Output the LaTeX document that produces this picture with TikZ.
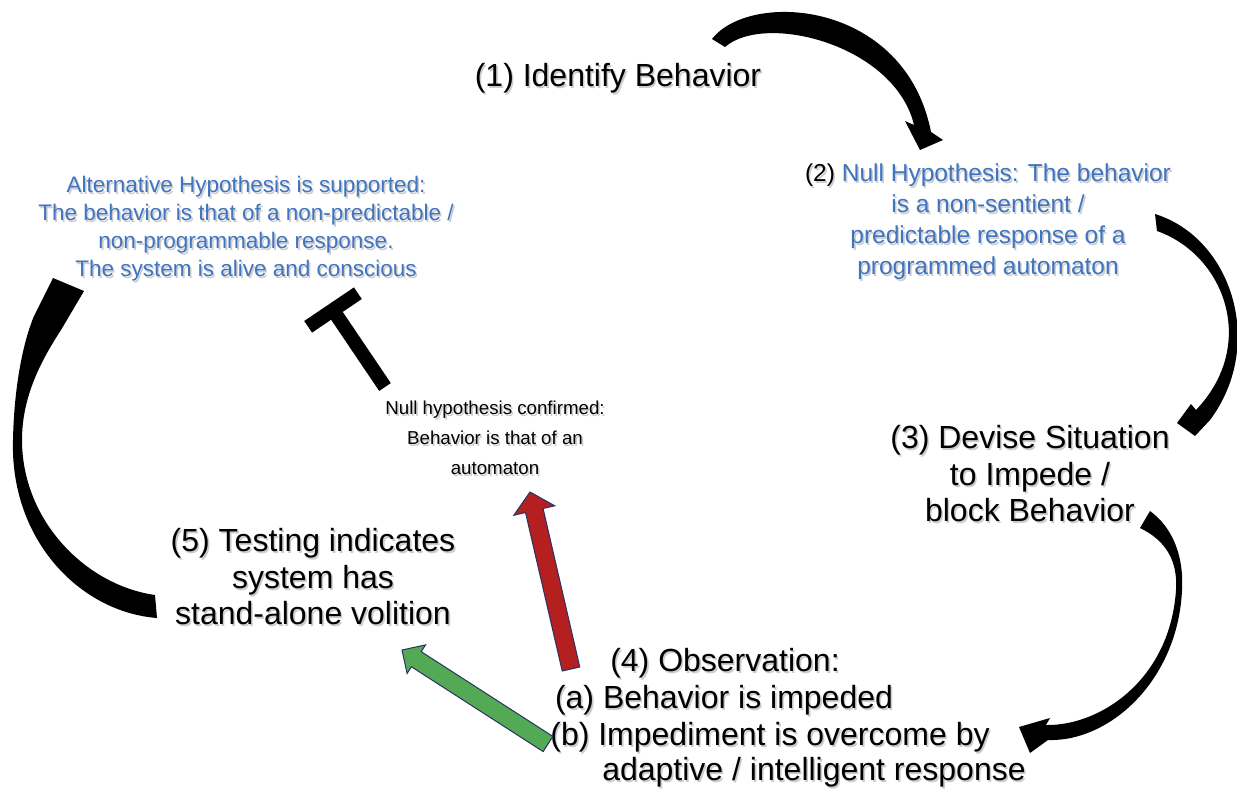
\documentclass[tikz,border=0pt]{standalone}
\usepackage{fontspec}
\setmainfont{Liberation Sans}
\usetikzlibrary{calc}
\definecolor{hblue}{RGB}{62,116,192}
\definecolor{ared}{RGB}{180,32,32}
\definecolor{agreen}{RGB}{84,170,84}
\definecolor{anavy}{RGB}{40,50,100}
\newcommand\blockarrow[6]{%
  \coordinate (bah) at ($(#3)!#6!(#2)$);
  \draw[#1] ($(#2)!#4!90:(#3)$) -- ($(bah)!#4!90:(#3)$) -- ($(bah)!#5!90:(#3)$)
    -- (#3) -- ($(bah)!#5!-90:(#3)$) -- ($(bah)!#4!-90:(#3)$) -- ($(#2)!#4!-90:(#3)$) -- cycle;}
\newcommand\leadcol{black}
\newcommand\stext[4]{%
  \node[#1, shadowcopy] (#2-sh) at ($(#3)+(1.6,1.8)$) {#4};
  \node[#1] (#2) at (#3) {#4};}
\begin{document}
\begin{tikzpicture}[x=1pt,y=-1pt,
  big/.style={font=\fontsize{32}{36.5}\selectfont, align=center, inner sep=0pt},
  hyp/.style={text=hblue, font=\fontsize{22.5}{28}\selectfont, align=center, inner sep=0pt},
  nullh/.style={text=hblue, font=\fontsize{24.5}{31}\selectfont, align=center, inner sep=0pt},
  conf/.style={font=\fontsize{18.7}{30}\selectfont, align=center, inner sep=0pt},
  shadowcopy/.style={text=black!20, execute at begin node={\def\leadcol{black!20}}},
  curvearrow/.style={fill=black, draw=none},
  redarrow/.style={fill=ared, draw=anavy, line width=1pt, line join=miter},
  greenarrow/.style={fill=agreen, draw=anavy, line width=1pt, line join=miter},
  blocker/.style={line width=14pt, draw=black}]
\useasboundingbox (0,0) rectangle (1237,796);

% texts
\stext{big}{identify}{618,78}{(1) Identify Behavior}
\stext{hyp}{alt}{246,229}{Alternative Hypothesis is supported:\\The behavior is that of a non-predictable /\\non-programmable response.\\The system is alive and conscious}
\stext{nullh}{null}{988,222}{{\color{\leadcol}(2)} Null Hypothesis: The behavior\\is a non-sentient /\\predictable response of a\\programmed automaton}
\stext{big}{devise}{1030,474}{(3) Devise Situation\\to Impede /\\block Behavior}
\stext{conf}{confirm}{495,438}{Null hypothesis confirmed:\\Behavior is that of an\\automaton}
\stext{big}{testing}{313,577}{(5) Testing indicates\\system has\\stand-alone volition}
\stext{big}{obs1}{725,663}{(4) Observation:}
\stext{big}{obs2}{724,700}{(a) Behavior is impeded}
\stext{big}{obs3}{770,737}{(b) Impediment is overcome by}
\stext{big}{obs4}{814,772}{adaptive / intelligent response}

% curved arrow (1) -> (2)
\fill[curvearrow] (712,39) .. controls (750,-10) and (905,0) .. (931,132)
  -- (943,140) -- (920,150) -- (905,121) -- (914,125)
  .. controls (895,45) and (765,12) .. (725,47) -- cycle;
% curved arrow (2) -> (3)
\fill[curvearrow] (1155,214) .. controls (1232,238) and (1266,345) .. (1210,420)
  -- (1195,436) -- (1177,423) -- (1191,404) -- (1196,410)
  .. controls (1258,345) and (1225,255) .. (1157,231) -- cycle;
% curved arrow (3) -> (4)
\fill[curvearrow] (1150,511) .. controls (1172,527) and (1184,555) .. (1182,590)
  .. controls (1178,680) and (1110,742) .. (1048,740)
  -- (1030,753) -- (1019,727) -- (1050,718) -- (1046,725)
  .. controls (1100,726) and (1170,680) .. (1176,590)
  .. controls (1178,560) and (1165,540) .. (1140,528) -- cycle;
% curved arrow (5) -> alternative
\fill[curvearrow] (157,618) .. controls (80,612) and (10,540) .. (13,440)
  .. controls (14,390) and (22,345) .. (34,316)
  -- (53,278) -- (84,291) -- (61,330)
  .. controls (38,365) and (22,400) .. (22,440)
  .. controls (22,520) and (85,585) .. (155,595) -- cycle;

% block: null confirmed -| alternative
\coordinate (tb1) at (385,387);
\coordinate (tb2) at (333,310);
\draw[blocker] (tb1) -- (tb2);
\draw[blocker] ($(tb2)!30pt!90:(tb1)$) -- ($(tb2)!30pt!-90:(tb1)$);

% straight block arrows
\coordinate (rfrom) at (571,669);
\coordinate (rto) at (530,492);
\blockarrow{redarrow}{rfrom}{rto}{9pt}{21pt}{19pt}
\coordinate (gfrom) at (548,744);
\coordinate (gto) at (402,650);
\blockarrow{greenarrow}{gfrom}{gto}{9pt}{17pt}{17pt}
\end{tikzpicture}
\end{document}
